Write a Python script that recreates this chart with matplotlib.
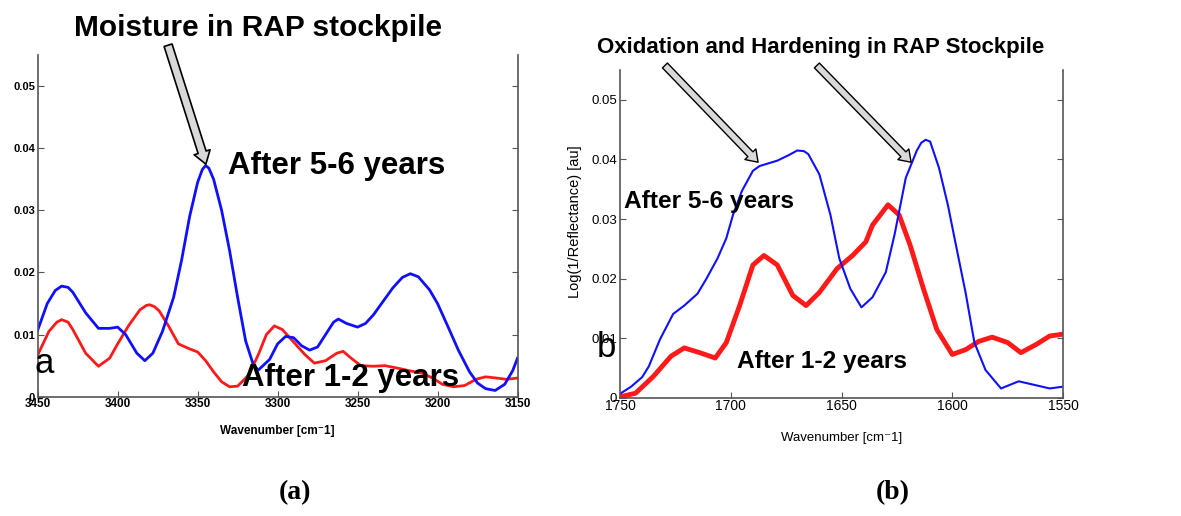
import numpy as np
import matplotlib
matplotlib.use('Agg')
import matplotlib.pyplot as plt
from matplotlib import font_manager

# ---- panel (a): 3450-3150 cm-1 ----
wn_a_old = [3450, 3444, 3439, 3435, 3431, 3428, 3420, 3412, 3405, 3400, 3395, 3388,
            3383, 3378, 3372, 3365, 3360, 3355, 3350, 3347, 3345, 3343, 3340, 3335,
            3330, 3325, 3320, 3315, 3312, 3305, 3300, 3295, 3290, 3285, 3280, 3275,
            3270, 3265, 3262, 3257, 3250, 3245, 3240, 3235, 3228, 3222, 3217, 3212,
            3205, 3200, 3193, 3187, 3180, 3175, 3170, 3164, 3158, 3153, 3150]
ab_a_old = [0.0107, 0.0150, 0.0171, 0.0178, 0.0176, 0.0168, 0.0135, 0.0110, 0.0110,
            0.0112, 0.0100, 0.0070, 0.0058, 0.0070, 0.0105, 0.0160, 0.0220, 0.0290,
            0.0345, 0.0366, 0.0372, 0.0368, 0.0350, 0.0300, 0.0235, 0.0160, 0.0090,
            0.0050, 0.0043, 0.0060, 0.0085, 0.0097, 0.0095, 0.0082, 0.0075, 0.0080,
            0.0100, 0.0120, 0.0125, 0.0118, 0.0112, 0.0118, 0.0132, 0.0150, 0.0175,
            0.0192, 0.0198, 0.0193, 0.0172, 0.0150, 0.0110, 0.0075, 0.0040, 0.0022,
            0.0013, 0.0010, 0.0020, 0.0042, 0.0062]
wn_a_new = [3450, 3443, 3438, 3435, 3431, 3428, 3420, 3412, 3405, 3400, 3393, 3386,
            3382, 3380, 3377, 3374, 3368, 3362, 3356, 3350, 3345, 3340, 3335, 3330,
            3325, 3318, 3312, 3307, 3302, 3297, 3290, 3283, 3277, 3270, 3263, 3259,
            3254, 3248, 3240, 3233, 3225, 3218, 3210, 3203, 3197, 3190, 3183, 3176,
            3170, 3163, 3157, 3150]
ab_a_new = [0.0067, 0.0105, 0.0120, 0.0124, 0.0120, 0.0108, 0.0070, 0.0049, 0.0062,
            0.0085, 0.0115, 0.0140, 0.0147, 0.0148, 0.0145, 0.0138, 0.0113, 0.0085,
            0.0078, 0.0072, 0.0058, 0.0040, 0.0024, 0.0016, 0.0017, 0.0035, 0.0068,
            0.0100, 0.0114, 0.0108, 0.0088, 0.0068, 0.0054, 0.0058, 0.0070, 0.0073,
            0.0062, 0.0050, 0.0049, 0.0050, 0.0046, 0.0042, 0.0038, 0.0030, 0.0020,
            0.0016, 0.0018, 0.0028, 0.0032, 0.0030, 0.0028, 0.0030]

# ---- panel (b): 1750-1550 cm-1 ----
wn_b_old = [1750, 1745, 1740, 1737, 1732, 1726, 1721, 1715, 1711, 1706, 1702, 1699,
            1695, 1690, 1687, 1679, 1674, 1670, 1667, 1665, 1660, 1655, 1651, 1646,
            1641, 1636, 1630, 1626, 1621, 1616, 1614, 1612, 1610, 1606, 1602, 1598,
            1594, 1590, 1585, 1578, 1570, 1563, 1556, 1550]
ab_b_old = [0.0007, 0.0019, 0.0035, 0.0053, 0.0098, 0.0141, 0.0155, 0.0175, 0.0200,
            0.0234, 0.0268, 0.0307, 0.0347, 0.0381, 0.0389, 0.0398, 0.0407, 0.0415,
            0.0414, 0.0409, 0.0375, 0.0307, 0.0234, 0.0183, 0.0152, 0.0169, 0.0211,
            0.0275, 0.0369, 0.0415, 0.0428, 0.0433, 0.0430, 0.0386, 0.0324, 0.0250,
            0.0177, 0.0093, 0.0047, 0.0016, 0.0028, 0.0022, 0.0016, 0.0019]
wn_b_new = [1750, 1743, 1735, 1727, 1721, 1714, 1707, 1702, 1696, 1690, 1685, 1679,
            1672, 1666, 1660, 1652, 1645, 1639, 1636, 1629, 1624, 1619, 1613, 1607,
            1600, 1594, 1588, 1582, 1575, 1569, 1562, 1556, 1550]
ab_b_new = [0.0002, 0.0008, 0.0036, 0.0070, 0.0084, 0.0076, 0.0067, 0.0093, 0.0155,
            0.0223, 0.0239, 0.0223, 0.0172, 0.0155, 0.0177, 0.0217, 0.0239, 0.0262,
            0.0290, 0.0324, 0.0307, 0.0256, 0.0183, 0.0115, 0.0073, 0.0081, 0.0095,
            0.0102, 0.0093, 0.0076, 0.0090, 0.0104, 0.0107]

yticks = [0, 0.01, 0.02, 0.03, 0.04, 0.05]
ytick_labels = ['0', '0.01', '0.02', '0.03', '0.04', '0.05']
xticks_a = [3450, 3400, 3350, 3300, 3250, 3200, 3150]
xticks_b = [1750, 1700, 1650, 1600, 1550]

names = {f.name for f in font_manager.fontManager.ttflist}
if 'Liberation Sans Narrow' in names:
    narrow, nscale = 'Liberation Sans Narrow', 1.0
else:
    narrow, nscale = 'Liberation Sans', 0.82

plt.rcParams['font.family'] = ['Liberation Sans', 'DejaVu Sans']

fig = plt.figure(figsize=(11.81, 5.16), dpi=100)
ax_a = fig.add_axes([0.0319, 0.2312, 0.4063, 0.6622])
ax_b = fig.add_axes([0.5250, 0.2287, 0.3751, 0.6356])

axis_col = '#555555'


def style(ax, xticks, size, weight):
    ax.set_ylim(0, 0.055)
    ax.set_yticks(yticks)
    ax.set_yticklabels(ytick_labels, fontsize=size, fontweight=weight)
    ax.set_xticks(xticks)
    ax.set_xticklabels([str(t) for t in xticks], fontsize=size + 0.5, fontweight=weight)
    ax.spines['top'].set_visible(False)
    for s in ['left', 'right', 'bottom']:
        ax.spines[s].set_color(axis_col)
        ax.spines[s].set_linewidth(1.2)
    ax.tick_params(axis='y', direction='in', right=True, length=4, color=axis_col, pad=2)
    ax.tick_params(axis='x', direction='in', length=4, color=axis_col, pad=1)


# panel (a)
ax_a.plot(wn_a_new, ab_a_new, color='#ff1a1a', lw=2.0)
ax_a.plot(wn_a_old, ab_a_old, color='#1010ff', lw=2.0)
ax_a.set_xlim(3450, 3150)
style(ax_a, xticks_a, 8, 'bold')
ax_a.set_xlabel('Wavenumber [cm\u207b1]', fontsize=8.5, fontweight='bold')
ax_a.xaxis.set_label_coords(0.5, -0.082)

ax_a.text(3331, 0.0372, 'After 5-6 years', fontsize=22.5, fontweight='bold', va='center')
ax_a.text(3322, 0.0030, 'After 1-2 years', fontsize=22.5, fontweight='bold', va='center')
ax_a.text(3452, 0.0054, 'a', fontsize=25, va='center')
ax_a.annotate('', xy=(3344.3, 0.0370), xytext=(3369, 0.0570),
              annotation_clip=False,
              arrowprops=dict(arrowstyle='simple,head_width=1.2,head_length=0.9,tail_width=0.6',
                              mutation_scale=10, fc='#d9d9d9', ec='black', lw=1.2))
fig.text(0.2185, 0.9457, 'Moisture in RAP stockpile', fontsize=21.5, fontweight='bold',
         ha='center', va='center')

# panel (b)
ax_b.plot(wn_b_new, ab_b_new, color='#ff1a1a', lw=3.5)
ax_b.plot(wn_b_old, ab_b_old, color='#1010ff', lw=1.5)
ax_b.set_xlim(1750, 1550)
style(ax_b, xticks_b, 9.5, 'normal')
ax_b.set_xlabel('Wavenumber [cm\u207b1]', fontsize=9.5)
ax_b.xaxis.set_label_coords(0.5, -0.104)
ax_b.set_ylabel('Log(1/Reflectance) [au]', fontsize=10.5)
ax_b.yaxis.set_label_coords(-0.085, 0.537)

ax_b.text(1748, 0.0329, 'After 5-6 years', fontsize=21.5 * nscale, fontweight='bold',
          va='center', family=[narrow, 'DejaVu Sans'])
ax_b.text(1697, 0.0061, 'After 1-2 years', fontsize=21.5 * nscale, fontweight='bold',
          va='center', family=[narrow, 'DejaVu Sans'])
ax_b.text(1760.5, 0.0085, 'b', fontsize=25, va='center')
for tip, tail in [((1686.8, 0.0392), (1730.6, 0.0561)),
                  ((1617.7, 0.0392), (1662.0, 0.0561))]:
    ax_b.annotate('', xy=tip, xytext=tail, annotation_clip=False,
                  arrowprops=dict(arrowstyle='simple,head_width=1.1,head_length=0.8,tail_width=0.5',
                                  mutation_scale=10, fc='#d9d9d9', ec='black', lw=1.0))
fig.text(0.6952, 0.9089, 'Oxidation and Hardening in RAP Stockpile', fontsize=19.5 * nscale,
         fontweight='bold', ha='center', va='center', family=[narrow, 'DejaVu Sans'])

# sub-figure captions
fig.text(0.2498, 0.0446, '(a)', fontsize=20, fontweight='bold', ha='center', va='center',
         family=['Liberation Serif', 'DejaVu Serif'])
fig.text(0.7561, 0.0446, '(b)', fontsize=20, fontweight='bold', ha='center', va='center',
         family=['Liberation Serif', 'DejaVu Serif'])

plt.savefig('out.png', dpi=100)
